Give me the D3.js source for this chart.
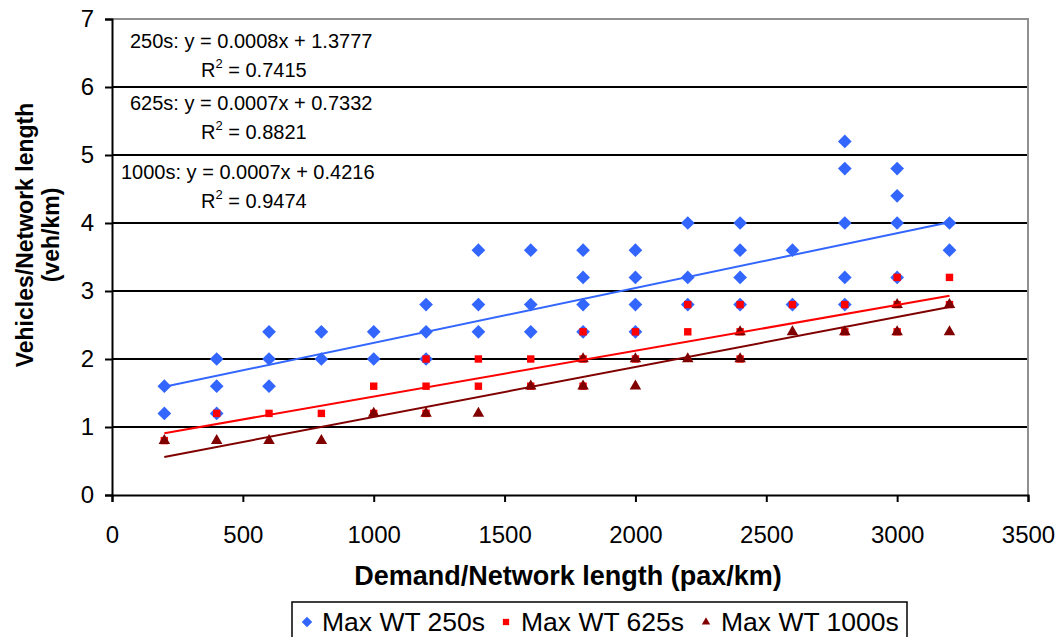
<!DOCTYPE html>
<html>
<head>
<meta charset="utf-8">
<script src="https://cdn.jsdelivr.net/npm/d3@7"></script>
<style>
  body { margin: 0; background: #fff; }
  text { font-family: "Liberation Sans", Arial, sans-serif; fill: #000; }
</style>
</head>
<body>
<svg id="chart" width="1061" height="637"></svg>
<script>
// demand levels (pax/km) and observed densities (veh/km) per series
const wt250 = [
  [200, 1.6], [200, 1.2],
  [400, 2.0], [400, 1.6], [400, 1.2],
  [600, 2.4], [600, 2.0], [600, 1.6],
  [800, 2.4], [800, 2.0],
  [1000, 2.4], [1000, 2.0],
  [1200, 2.8], [1200, 2.4], [1200, 2.0],
  [1400, 3.6], [1400, 2.8], [1400, 2.4],
  [1600, 3.6], [1600, 2.8], [1600, 2.4],
  [1800, 3.6], [1800, 3.2], [1800, 2.8], [1800, 2.4],
  [2000, 3.6], [2000, 3.2], [2000, 2.8], [2000, 2.4],
  [2200, 4.0], [2200, 3.2], [2200, 2.8],
  [2400, 4.0], [2400, 3.6], [2400, 3.2], [2400, 2.8],
  [2600, 3.6], [2600, 2.8],
  [2800, 5.2], [2800, 4.8], [2800, 4.0], [2800, 3.2], [2800, 2.8],
  [3000, 4.8], [3000, 4.4], [3000, 4.0], [3000, 3.2],
  [3200, 4.0], [3200, 3.6]
];
const wt625 = [
  [200, 0.8],
  [400, 1.2], [600, 1.2], [800, 1.2],
  [1000, 1.6], [1000, 1.2],
  [1200, 2.0], [1200, 1.6], [1200, 1.2],
  [1400, 2.0], [1400, 1.6],
  [1600, 2.0], [1600, 1.6],
  [1800, 2.4], [1800, 2.0], [1800, 1.6],
  [2000, 2.4], [2000, 2.0],
  [2200, 2.8], [2200, 2.4],
  [2400, 2.8], [2400, 2.4], [2400, 2.0],
  [2600, 2.8],
  [2800, 2.8], [2800, 2.4],
  [3000, 3.2], [3000, 2.8], [3000, 2.4],
  [3200, 3.2], [3200, 2.8]
];
const wt1000 = [
  [200, 0.8], [400, 0.8], [600, 0.8], [800, 0.8],
  [1000, 1.2], [1200, 1.2], [1400, 1.2],
  [1600, 1.6],
  [1800, 2.0], [1800, 1.6],
  [2000, 2.0], [2000, 1.6],
  [2200, 2.0],
  [2400, 2.4], [2400, 2.0],
  [2600, 2.4], [2800, 2.4],
  [3000, 2.8], [3000, 2.4],
  [3200, 2.8], [3200, 2.4]
];

// linear trendlines as drawn (slope, intercept), spanning x 200..3200
const trendSlope = [0.000807, 0.000673, 0.000735];
const trendIntercept = [1.43, 0.775, 0.413];
const trendRange = [200, 3200];

const seriesNames = ['Max WT 250s', 'Max WT 625s', 'Max WT 1000s'];
const seriesColors = ['#3366ff', '#ff0000', '#800000'];
const seriesShapes = [d3.symbolDiamond2, d3.symbolSquare2, d3.symbolTriangle2];

const eqLabels = [
  ['250s: y = 0.0008x + 1.3777', '0.7415'],
  ['625s: y = 0.0007x + 0.7332', '0.8821'],
  ['1000s: y = 0.0007x + 0.4216', '0.9474']
];

const xTicks = [0, 500, 1000, 1500, 2000, 2500, 3000, 3500];
const yTicks = [0, 1, 2, 3, 4, 5, 6, 7];

const svg = d3.select('#chart');
const plotLeft = 112, plotRight = 1028, plotTop = 19, plotBottom = 495;

const x = d3.scaleLinear().domain([0, 3500]).range([plotLeft, plotRight]);
const y = d3.scaleLinear().domain([0, 7]).range([plotBottom, plotTop]);

// horizontal gridlines
svg.append('g')
  .selectAll('line')
  .data(yTicks.filter((t) => t > 0))
  .join('line')
  .attr('x1', plotLeft).attr('x2', plotRight)
  .attr('y1', (d) => y(d)).attr('y2', (d) => y(d))
  .attr('stroke', '#000')
  .attr('stroke-width', 2);

// grey plot border on top and right
svg.append('path')
  .attr('d', `M${plotLeft},${plotTop}H${plotRight}V${plotBottom}`)
  .attr('fill', 'none')
  .attr('stroke', '#909090')
  .attr('stroke-width', 2);

// axes
const xAxis = svg.append('g')
  .attr('transform', `translate(0,${plotBottom})`)
  .call(d3.axisBottom(x).tickValues(xTicks).tickSize(7).tickPadding(24).tickFormat(d3.format('d')));
const yAxis = svg.append('g')
  .attr('transform', `translate(${plotLeft},0)`)
  .call(d3.axisLeft(y).tickValues(yTicks).tickSize(7).tickPadding(11).tickFormat(d3.format('d')));

[xAxis, yAxis].forEach((ax) => {
  ax.select('.domain').attr('stroke', '#000').attr('stroke-width', 2);
  ax.selectAll('.tick line').attr('stroke', '#000').attr('stroke-width', 2);
  ax.selectAll('.tick text')
    .attr('font-family', '"Liberation Sans", Arial, sans-serif')
    .attr('font-size', 24)
    .attr('fill', '#000');
});

// scatter points
[wt250, wt625, wt1000].forEach((data, i) => {
  const sym = d3.symbol().type(seriesShapes[i]).size(i === 0 ? 120 : (i === 1 ? 70 : 95));
  svg.append('g')
    .selectAll('path')
    .data(data)
    .join('path')
    .attr('transform', (d) => `translate(${x(d[0])},${y(d[1])})`)
    .attr('d', sym)
    .attr('fill', seriesColors[i]);
});

// trendlines
trendSlope.forEach((m, i) => {
  svg.append('line')
    .attr('x1', x(trendRange[0]))
    .attr('y1', y(m * trendRange[0] + trendIntercept[i]))
    .attr('x2', x(trendRange[1]))
    .attr('y2', y(m * trendRange[1] + trendIntercept[i]))
    .attr('stroke', seriesColors[i])
    .attr('stroke-width', 2);
});

// equation labels
const eqX = [130, 130, 121];
const eqY = [48, 110, 179];
eqLabels.forEach((lab, i) => {
  svg.append('text')
    .attr('x', eqX[i]).attr('y', eqY[i])
    .attr('font-size', 20)
    .text(lab[0]);
  const r = svg.append('text')
    .attr('x', 201).attr('y', eqY[i] + 29)
    .attr('font-size', 20);
  r.append('tspan').text('R');
  r.append('tspan').attr('dy', -9).attr('font-size', 13).text('2');
  r.append('tspan').attr('dy', 9).text(' = ' + lab[1]);
});

// axis titles
svg.append('text')
  .attr('x', 568).attr('y', 585)
  .attr('text-anchor', 'middle')
  .attr('font-size', 27)
  .attr('font-weight', 'bold')
  .text('Demand/Network length (pax/km)');

const yTitle = svg.append('text')
  .attr('transform', 'translate(0,235) rotate(-90)')
  .attr('text-anchor', 'middle')
  .attr('font-size', 23)
  .attr('font-weight', 'bold');
yTitle.append('tspan').attr('x', 0).attr('y', 33).text('Vehicles/Network length');
yTitle.append('tspan').attr('x', 0).attr('y', 59).text('(veh/km)');

// legend
const legend = svg.append('g');
legend.append('rect')
  .attr('x', 292).attr('y', 602)
  .attr('width', 615).attr('height', 44)
  .attr('fill', '#fff')
  .attr('stroke', '#000')
  .attr('stroke-width', 1.5);
const legX = [307, 506, 706];
seriesNames.forEach((name, i) => {
  legend.append('path')
    .attr('transform', `translate(${legX[i]},622)`)
    .attr('d', d3.symbol().type(seriesShapes[i]).size(i === 0 ? 70 : 50)())
    .attr('fill', seriesColors[i]);
  legend.append('text')
    .attr('x', legX[i] + 15).attr('y', 631)
    .attr('font-size', 26.5)
    .text(name);
});
</script>
</body>
</html>
